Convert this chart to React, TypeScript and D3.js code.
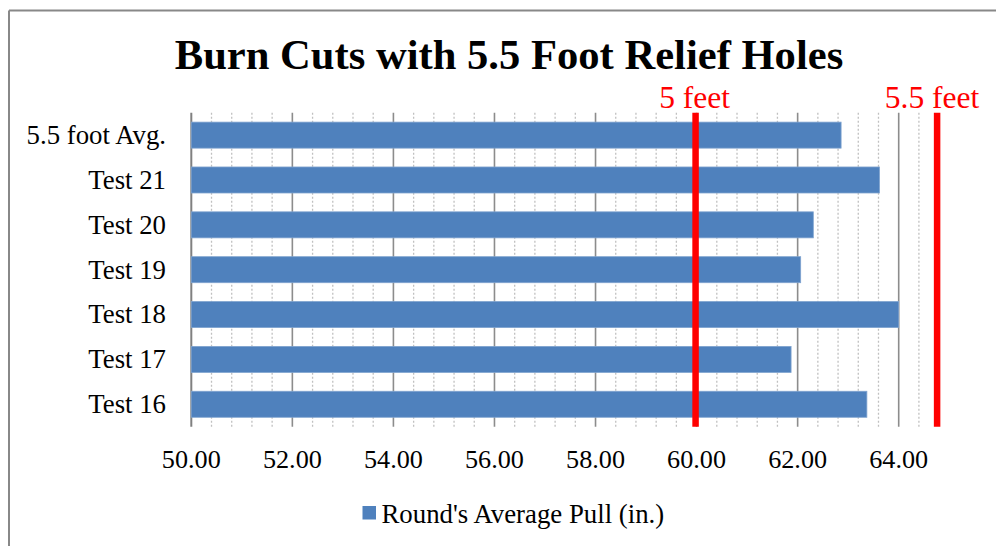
import React from "react";
import * as d3 from "d3";

const categories = ["5.5 foot Avg.", "Test 21", "Test 20", "Test 19", "Test 18", "Test 17", "Test 16"];
const values = [62.86, 63.62, 62.31, 62.06, 64.0, 61.87, 63.37];
const xTicks = [50, 52, 54, 56, 58, 60, 62, 64];
const markers = [
  { label: "5 feet", value: 59.98, labelShift: -1 },
  { label: "5.5 feet", value: 64.76, labelShift: -5 },
];
const title = "Burn Cuts with 5.5 Foot Relief Holes";
const seriesName = "Round's Average Pull (in.)";

const W = 996;
const H = 546;
const FONT = "'Liberation Serif', 'Times New Roman', serif";

export default function App() {
  const x = d3.scaleLinear().domain([50, 64]).range([191.3, 898.7]);
  const top = 112.7;
  const bottom = 426.7;
  const y = d3
    .scaleBand<string>()
    .domain(categories)
    .range([top, bottom])
    .paddingInner(0.42)
    .paddingOuter(0.21);
  const minor = d3
    .range(0, 37)
    .map((i) => 50 + i * 0.4)
    .filter((v) => Math.abs((v - 50) % 2) > 0.01 && Math.abs(((v - 50) % 2) - 2) > 0.01);

  return (
    <svg
      width={W}
      height={H}
      style={{ position: "absolute", left: 0, top: 0, background: "#fff" }}
      fontFamily={FONT}
    >
      {/* frame */}
      <line x1={9} x2={W} y1={10.5} y2={10.5} stroke="#888" strokeWidth={2} />
      <line x1={9} x2={9} y1={10.5} y2={H} stroke="#888" strokeWidth={2} />

      <text x={509} y={69} textAnchor="middle" fontSize={42.6} fontWeight="bold" fill="#000">
        {title}
      </text>

      {/* minor gridlines */}
      {minor.map((v, i) => (
        <line key={"m" + i} x1={x(v)} x2={x(v)} y1={top} y2={bottom} stroke="#c0c0c0" strokeWidth={1.3} strokeDasharray="2,2" />
      ))}
      {/* major gridlines */}
      {xTicks.map((v) => (
        <line key={"g" + v} x1={x(v)} x2={x(v)} y1={top} y2={bottom} stroke={v === 50 ? "#808080" : "#8c8c8c"} strokeWidth={v === 50 ? 2 : 1.6} />
      ))}

      {/* bars */}
      {categories.map((c, i) => (
        <rect
          key={c}
          x={x(50)}
          y={y(c)}
          width={x(values[i]) - x(50)}
          height={y.bandwidth()}
          fill="#4F81BD"
          stroke="#7fa3cf"
          strokeWidth={0.8}
        />
      ))}

      {/* markers */}
      {markers.map((m) => (
        <g key={m.label}>
          <line x1={x(m.value)} x2={x(m.value)} y1={top} y2={bottom} stroke="#FF0000" strokeWidth={6.5} />
          <text x={x(m.value) + m.labelShift} y={108} textAnchor="middle" fontSize={31.5} fill="#FF0000">
            {m.label}
          </text>
        </g>
      ))}

      {/* y labels */}
      {categories.map((c) => (
        <text key={"l" + c} x={166} y={(y(c) ?? 0) + y.bandwidth() / 2} dy="0.33em" textAnchor="end" fontSize={26.8} fill="#000">
          {c}
        </text>
      ))}

      {/* x labels */}
      {xTicks.map((v) => (
        <text key={"t" + v} x={x(v)} y={468} textAnchor="middle" fontSize={26.2} fill="#000">
          {d3.format(".2f")(v)}
        </text>
      ))}

      {/* legend */}
      <rect x={362.5} y={506} width={13.5} height={13.5} fill="#4F81BD" />
      <text x={381.5} y={523} fontSize={26.8} fill="#000">
        {seriesName}
      </text>
    </svg>
  );
}
